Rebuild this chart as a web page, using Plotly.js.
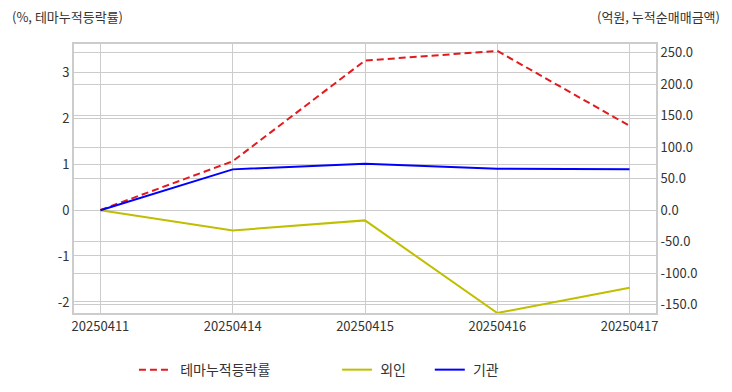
<!DOCTYPE html>
<html>
<head>
<meta charset="utf-8">
<script src="https://cdn.plot.ly/plotly-3.0.1.min.js"></script>
<style>html,body{margin:0;padding:0;background:#fff;}#chart{width:732px;height:392px;}</style>
</head>
<body>
<div id="chart"></div>
<script>
const dates = ["20250411", "20250414", "20250415", "20250416", "20250417"];
const themeReturn = [0, 1.06, 3.25, 3.46, 1.83];
const foreign = [0, -32, -16, -163, -123];
const institution = [0, 65, 74, 66, 65];
const leftTicks = [-2, -1, 0, 1, 2, 3];
const rightTicks = [-150, -100, -50, 0, 50, 100, 150, 200, 250];

const FONT = "Noto Sans CJK KR, Noto Sans, sans-serif";
const NB = "\u00a0";

const traces = [
  {x: dates, y: themeReturn, name: NB + NB + "테마누적등락률", type: "scatter", mode: "lines",
   line: {color: "#e31a1c", width: 2, dash: "7px,4px"}, yaxis: "y", legend: "legend"},
  {x: dates, y: foreign, name: NB + "외인" + NB + NB + NB + NB + NB + NB, type: "scatter", mode: "lines",
   line: {color: "#bfbf00", width: 2}, yaxis: "y2", legend: "legend2"},
  {x: dates, y: institution, name: NB + "기관", type: "scatter", mode: "lines",
   line: {color: "#0000ff", width: 2}, yaxis: "y2", legend: "legend2"}
];

const layout = {
  width: 732, height: 392,
  margin: {l: 74, r: 76, t: 44, b: 79},
  paper_bgcolor: "#ffffff", plot_bgcolor: "#ffffff",
  font: {family: FONT, size: 13, color: "#333333"},
  xaxis: {type: "category", range: [-0.2, 4.2], showgrid: true, gridcolor: "#cccccc", gridwidth: 1,
          showline: true, linecolor: "#cccccc", linewidth: 2, mirror: true, ticks: "", zeroline: false,
          tickfont: {size: 13, color: "#333333"}},
  yaxis: {range: [-2.24, 3.61], tickvals: leftTicks, ticktext: leftTicks.map(String),
          showgrid: true, gridcolor: "#cccccc", gridwidth: 1, zeroline: false,
          showline: true, linecolor: "#cccccc", linewidth: 2, ticks: "", tickfont: {size: 13, color: "#333333"}},
  yaxis2: {overlaying: "y", side: "right", range: [-163, 264], tickvals: rightTicks,
           ticktext: rightTicks.map(v => v.toFixed(1)),
           showgrid: true, gridcolor: "#cccccc", gridwidth: 1, zeroline: false,
           showline: true, linecolor: "#cccccc", linewidth: 2, ticks: "", tickfont: {size: 13, color: "#333333"}},
  showlegend: true,
  legend: {orientation: "h", x: 0.103, xanchor: "left", xref: "paper", yref: "container", y: 0.056, yanchor: "middle",
           font: {size: 14, color: "#333333"}, bgcolor: "rgba(0,0,0,0)"},
  legend2: {orientation: "h", x: 0.452, xanchor: "left", xref: "paper", yref: "container", y: 0.056, yanchor: "middle",
           font: {size: 14, color: "#333333"}, bgcolor: "rgba(0,0,0,0)"},
  annotations: [
    {text: "(%, 테마누적등락률)", xref: "paper", yref: "paper", x: -0.110, y: 1.104, xanchor: "left", yanchor: "middle",
     showarrow: false, font: {size: 13, color: "#333333"}},
    {text: "(억원, 누적순매매금액)", xref: "paper", yref: "paper", x: 1.1134, y: 1.104, xanchor: "right", yanchor: "middle",
     showarrow: false, font: {size: 13, color: "#333333"}}
  ]
};

Plotly.newPlot("chart", traces, layout, {displayModeBar: false, staticPlot: true});
</script>
</body>
</html>
